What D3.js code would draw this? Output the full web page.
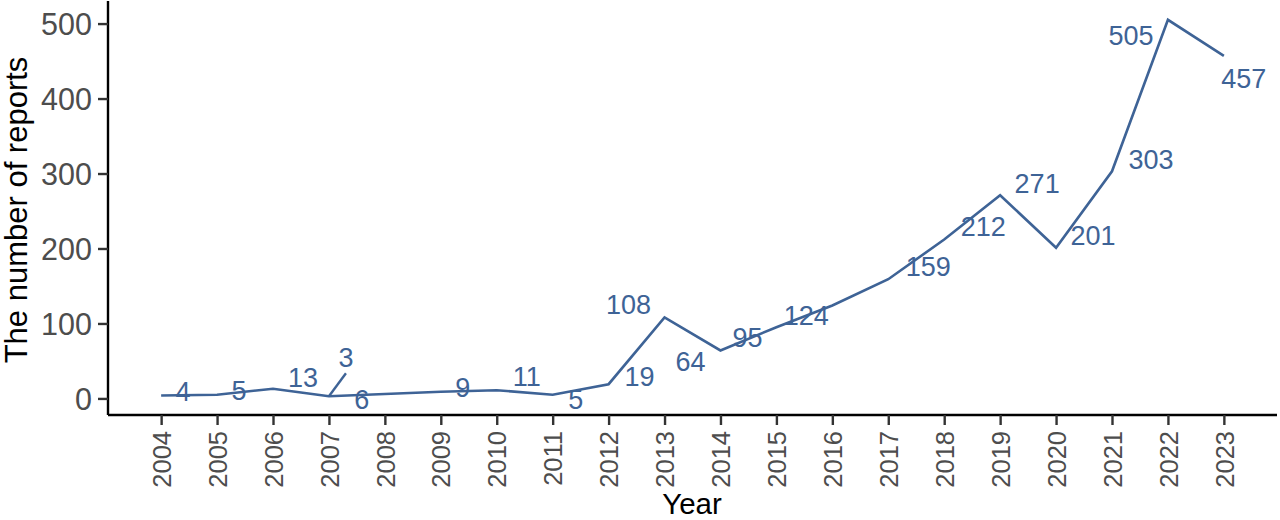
<!DOCTYPE html>
<html><head><meta charset="utf-8">
<script src="https://cdn.jsdelivr.net/npm/d3@7"></script>
<style>body{margin:0;background:#fff;} svg{display:block;font-family:"Liberation Sans",Arial,sans-serif;}</style>
</head><body>
<svg id="c" width="1280" height="520"></svg>
<script>
const years = [2004,2005,2006,2007,2008,2009,2010,2011,2012,2013,2014,2015,2016,2017,2018,2019,2020,2021,2022,2023];
const reports = [4,5,13,3,6,9,11,5,19,108,64,95,124,159,212,271,201,303,505,457];
const yTicks = [0,100,200,300,400,500];
// label placement offsets (px) relative to each point, mimicking repelled labels
const labelDx = [22,22,30,17,-23,22,30,23,31,-36,-30,-29,-26,40,39,37,37,39,-37,20];
const labelDy = [-4,-4,-11,-39,5,-4,-14,5,-8,-13,11,10,10,-13,-13,-12,-12,-12,15,22];
const leader = [false,false,false,true,false,false,false,false,false,false,false,false,false,false,false,false,false,false,false,false];

(function(){
const svg = d3.select("#c");
const pL = 108, pR = 1277, pT = 1, pB = 415;
const ymin = d3.min(reports), ymax = d3.max(reports);
const ypad = (ymax - ymin) * 0.05, xpad = (2023 - 2004) * 0.05;
const x = d3.scaleLinear().domain([2004 - xpad, 2023 + xpad]).range([pL, pR]);
const y = d3.scaleLinear().domain([ymin - ypad, ymax + ypad]).range([pB, pT]);
const col = "#3E6396";

// axes
const yAxis = d3.axisLeft(y).tickValues(yTicks).tickSize(10).tickPadding(6);
const gy = svg.append("g").attr("transform", `translate(${pL},0)`).call(yAxis);
gy.select(".domain").attr("stroke", "#000").attr("stroke-width", 2.4).attr("d", `M0,${pT}V${pB}`);
gy.selectAll(".tick line").attr("stroke", "#333").attr("stroke-width", 2.4);
gy.selectAll(".tick text").attr("fill", "#4D4D4D").style("font-size", "30.5px").attr("dy", "0.36em");

const xAxis = d3.axisBottom(x).tickValues(years).tickFormat(d3.format("d")).tickSize(10).tickPadding(5);
const gx = svg.append("g").attr("transform", `translate(0,${pB})`).call(xAxis);
gx.select(".domain").attr("stroke", "#000").attr("stroke-width", 2.4).attr("d", `M${pL},0H${pR}`);
gx.selectAll(".tick line").attr("stroke", "#333").attr("stroke-width", 2.4);
gx.selectAll(".tick text").attr("fill", "#4D4D4D").style("font-size", "25.5px")
  .attr("transform", "rotate(-90)").attr("text-anchor", "end").attr("x", -16).attr("y", 0).attr("dy", "0.36em");

// titles
svg.append("text").attr("x", 692).attr("y", 514).attr("text-anchor", "middle")
  .style("font-size", "29.5px").attr("fill", "#000").text("Year");
svg.append("text").attr("transform", `translate(27,${(pT + pB) / 2 + 2}) rotate(-90)`).attr("text-anchor", "middle")
  .style("font-size", "31px").attr("fill", "#000").text("The number of reports");

// line
const data = years.map((yr, i) => ({yr, v: reports[i], dx: labelDx[i], dy: labelDy[i], lead: leader[i]}));
svg.append("path").datum(data).attr("fill", "none").attr("stroke", col).attr("stroke-width", 2.6)
  .attr("stroke-linejoin", "miter")
  .attr("d", d3.line().x(d => x(d.yr)).y(d => y(d.v)));

// leader segments
svg.selectAll(".lead").data(data.filter(d => d.lead)).join("line")
  .attr("x1", d => x(d.yr)).attr("y1", d => y(d.v))
  .attr("x2", d => x(d.yr) + d.dx).attr("y2", d => y(d.v) + d.dy + 16)
  .attr("stroke", col).attr("stroke-width", 2.4);

// labels
svg.selectAll(".lbl").data(data).join("text")
  .attr("x", d => x(d.yr) + d.dx).attr("y", d => y(d.v) + d.dy)
  .attr("text-anchor", "middle").attr("dy", "0.36em")
  .style("font-size", "27px").attr("fill", col).text(d => d.v);
})();
</script>
</body></html>
